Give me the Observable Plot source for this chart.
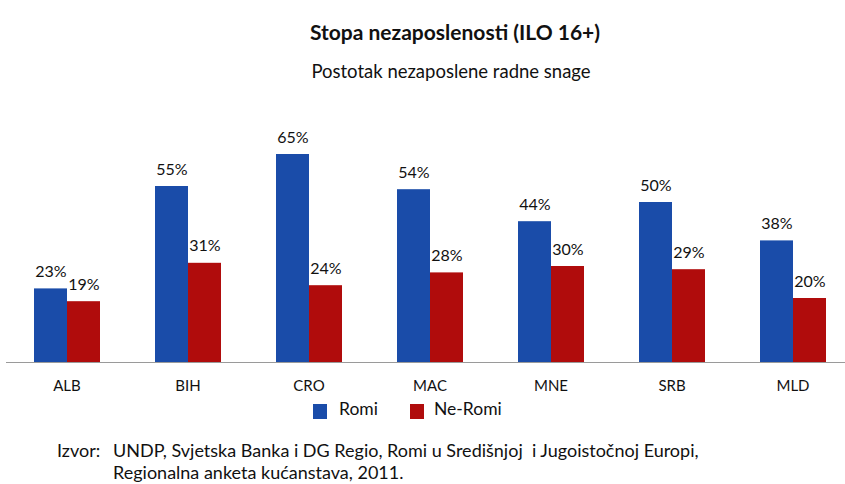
<!DOCTYPE html>
<html>
<head>
<meta charset="utf-8">
<script src="https://cdn.jsdelivr.net/npm/d3@7"></script>
<script src="https://cdn.jsdelivr.net/npm/@observablehq/plot@0.6"></script>
<style>
  html, body { margin: 0; padding: 0; background: #fff; overflow: hidden; }
  body { width: 845px; height: 484px; position: relative; font-family: Lato, "Open Sans", sans-serif; color: #111; }
  .abs { position: absolute; white-space: nowrap; line-height: 1.2; }
  #title { left: 455px; top: 18.5px; transform: translateX(-50%); font-size: 21px; font-weight: bold; }
  #subtitle { left: 451px; top: 60px; transform: translateX(-50%); font-size: 18.5px; }
  #chart { position: absolute; left: 0; top: 100px; width: 860px; }
  .sw { position: absolute; width: 14px; height: 15px; }
  .lg { font-size: 17.5px; }
  .cap { font-size: 18px; line-height: 1.15; }
</style>
</head>
<body>
<div id="title" class="abs">Stopa nezaposlenosti (ILO 16+)</div>
<div id="subtitle" class="abs">Postotak nezaposlene radne snage</div>
<div id="chart"></div>
<div id="legend"></div>
<div class="abs cap" style="left:57px; top:440px;">Izvor:</div>
<div class="abs cap" style="left:113px; top:440px;">UNDP, Svjetska Banka i DG Regio, Romi u Središnjoj&nbsp; i Jugoistočnoj Europi,</div>
<div class="abs cap" style="left:113px; top:462px;">Regionalna anketa kućanstava, 2011.</div>
<script>
const countries = ["ALB", "BIH", "CRO", "MAC", "MNE", "SRB", "MLD"];
const romi = [23, 55, 65, 54, 44, 50, 38];
const neRomi = [19, 31, 24, 28, 30, 29, 20];
const series = ["Romi", "Ne-Romi"];
const colors = ["#1a4ca9", "#b00c0c"];

const data = countries.flatMap((c, i) => [
  {country: c, series: series[0], value: romi[i]},
  {country: c, series: series[1], value: neRomi[i]}
]);

const chart = Plot.plot({
  width: 860,
  height: 300,
  marginLeft: 6,
  marginRight: 7,
  marginTop: 38,
  marginBottom: 38,
  style: {fontFamily: "Lato, 'Open Sans', sans-serif", fontSize: "15px", color: "#111", background: "transparent", maxWidth: "none"},
  fx: {domain: countries, padding: 0, label: null, axis: "bottom", tickSize: 0, tickPadding: 18},
  x: {domain: series, paddingInner: 0, paddingOuter: 0.78, axis: null},
  y: {domain: [0, 70], axis: null},
  color: {domain: series, range: colors},
  marks: [
    Plot.barY(data, {fx: "country", x: "series", y: "value", fill: "series"}),
    Plot.text(data, {fx: "country", x: "series", y: "value", text: d => d.value + "%", lineAnchor: "bottom", dy: -12, fontSize: 16, fill: "#111"}),
    Plot.ruleY([0], {stroke: "#9a9a9a", strokeWidth: 1.2})
  ]
});
chart.style.maxWidth = "none";
document.getElementById("chart").appendChild(chart);

const legend = document.getElementById("legend");
const legendItems = [
  {label: series[0], color: colors[0], sx: 313, tx: 339},
  {label: series[1], color: colors[1], sx: 410, tx: 434}
];
legendItems.forEach(it => {
  const s = document.createElement("div");
  s.className = "sw";
  s.style.left = it.sx + "px";
  s.style.top = "404px";
  s.style.background = it.color;
  legend.appendChild(s);
  const t = document.createElement("div");
  t.className = "abs lg";
  t.style.left = it.tx + "px";
  t.style.top = "397.5px";
  t.textContent = it.label;
  legend.appendChild(t);
});
</script>
</body>
</html>
